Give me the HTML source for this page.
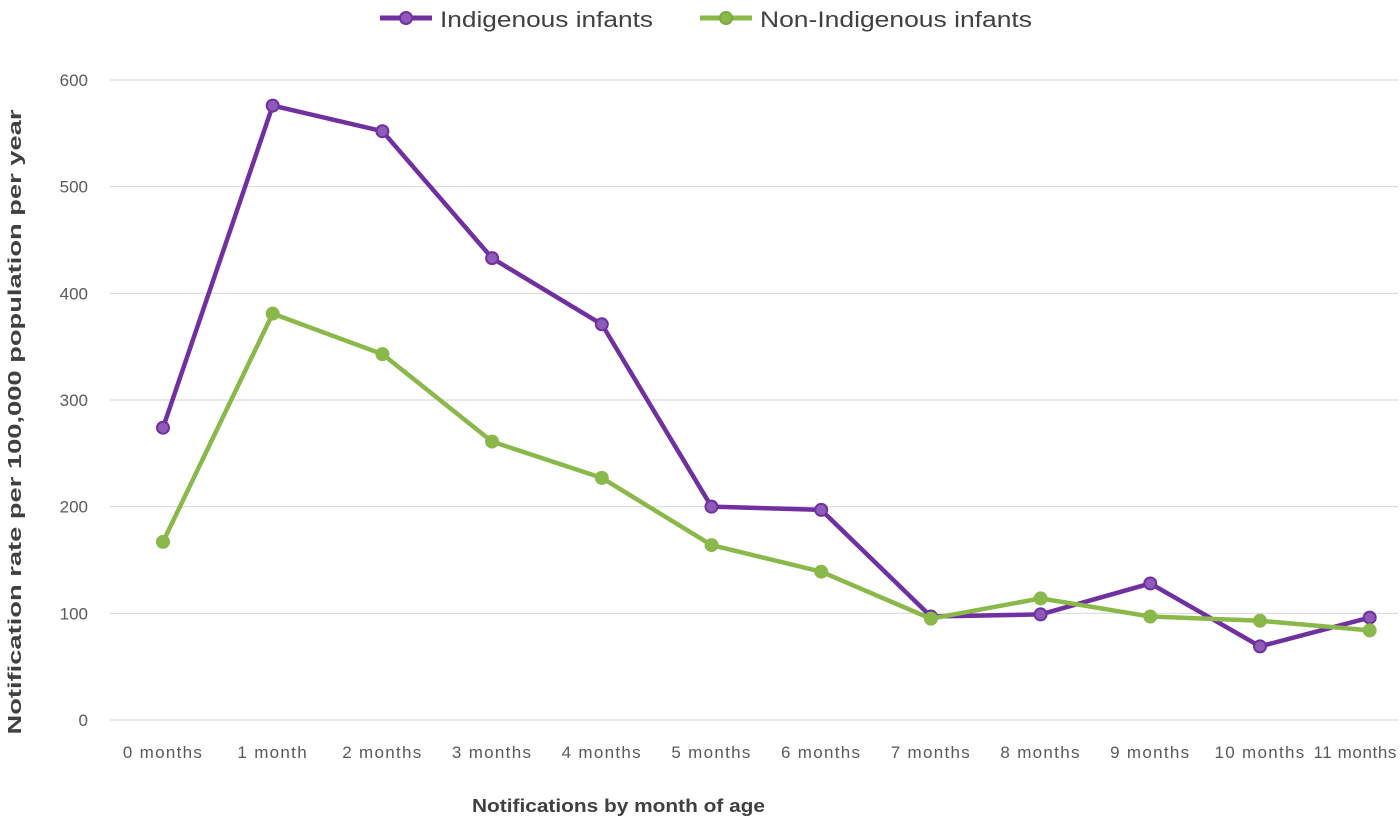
<!DOCTYPE html>
<html><head><meta charset="utf-8"><style>
body{margin:0;background:#fff;}
svg text{font-family:"Liberation Sans",sans-serif;}
</style></head><body>
<svg id="chart" width="1400" height="824" viewBox="0 0 1400 824" xmlns="http://www.w3.org/2000/svg">
<g id="grid"></g>
<g id="yticks"></g>
<g id="xticks"></g>
<g id="series"></g>
<text transform="translate(21,422) rotate(-90)" text-anchor="middle" font-size="18" font-weight="bold" fill="#404040" textLength="625" lengthAdjust="spacingAndGlyphs">Notification rate per 100,000 population per year</text>
<text x="472" y="812" font-size="18" font-weight="bold" fill="#404040" textLength="293" lengthAdjust="spacingAndGlyphs">Notifications by month of age</text>
<g>
<g>
<line x1="380" y1="18" x2="432" y2="18" stroke="#7030a0" stroke-width="5"/>
<circle cx="406" cy="18" r="6" fill="#8e5cb8" stroke="#7030a0" stroke-width="2"/>
<text x="440" y="27" font-size="22" fill="#404040" textLength="213" lengthAdjust="spacingAndGlyphs">Indigenous infants</text></g>
<g>
<line x1="700" y1="18" x2="752" y2="18" stroke="#8ab84a" stroke-width="5"/>
<circle cx="726" cy="18" r="6" fill="#8ab84a" stroke="#7aa83a" stroke-width="2"/>
<text x="760" y="27" font-size="22" fill="#404040" textLength="272" lengthAdjust="spacingAndGlyphs">Non-Indigenous infants</text></g>
</g>
</svg>
<script>
const categories=["0 months","1 month","2 months","3 months","4 months","5 months","6 months","7 months","8 months","9 months","10 months","11 months"];
const indigenous=[274,576,552,433,371,200,197,97,99,128,69,96];
const nonIndigenous=[167,381,343,261,227,164,139,95,114,97,93,84];
const yTicks=[0,100,200,300,400,500,600];
const NS="http://www.w3.org/2000/svg";
const x=i=>163+i*109.7;
const y=v=>720-v*(640/600);
function mk(t,a,p){const e=document.createElementNS(NS,t);for(const k in a)e.setAttribute(k,a[k]);p.appendChild(e);return e;}
const grid=document.getElementById('grid'),yt=document.getElementById('yticks'),xt=document.getElementById('xticks'),sr=document.getElementById('series');
yTicks.forEach(v=>{
 const l=mk('line',{x1:110,x2:1398,y1:y(v),y2:y(v),stroke:'#d9d9d9','stroke-width':1.2},grid);
 
 
 const t=mk('text',{x:88,y:y(v)+6,'text-anchor':'end','font-size':17,fill:'#595959'},yt);
 t.textContent=v;
 
 
});
categories.forEach((c,i)=>{
 const last=i===categories.length-1;
 const t=mk('text',{x:last?1397:x(i),y:758,'text-anchor':last?'end':'middle','font-size':17,fill:'#595959','letter-spacing':last?0.6:1.3},xt);
 t.textContent=c;
 
 
});
function draw(data,stroke,fill,name){
 const g=mk('g',{},sr);
 
 
 const p=mk('polyline',{points:data.map((v,i)=>x(i)+','+y(v)).join(' '),fill:'none',stroke:stroke,'stroke-width':4.5,'stroke-linejoin':'round'},g);
 
 
 data.forEach((v,i)=>{
  const c=mk('circle',{cx:x(i),cy:y(v),r:6,fill:fill,stroke:stroke,'stroke-width':2},g);
  
  
 });
}
draw(indigenous,'#7030a0','#8e5cb8','indigenous');
draw(nonIndigenous,'#8ab84a','#8ab84a','non-indigenous');
</script>
</body></html>
